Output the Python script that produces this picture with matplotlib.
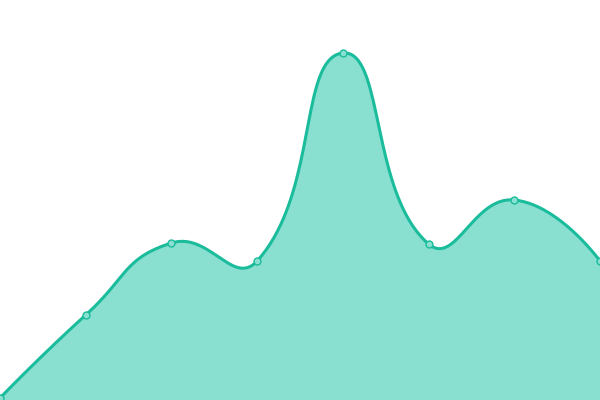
import numpy as np
import matplotlib
matplotlib.use("Agg")
import matplotlib.pyplot as plt

values = [2, 85, 157, 139, 347, 156, 200, 139]
line_color = "#1abc9c"
fill_color = "#89e0d0"


def smooth_path(xs, ys, smooth=0.5, n=40):
    # bezier smoothing, same idea as echarts' smooth line
    pts = list(zip(xs, ys))
    cps = []
    for i, (x, y) in enumerate(pts):
        if i == 0 or i == len(pts) - 1:
            cps.append(((x, y), (x, y)))
            continue
        px, py = pts[i - 1]
        nx, ny = pts[i + 1]
        vx, vy = nx - px, ny - py
        l0 = np.hypot(x - px, y - py)
        l1 = np.hypot(nx - x, ny - y)
        r = l1 / (l0 + l1)
        cin = (x - vx * smooth * (1 - r), y - vy * smooth * (1 - r))
        cout = (x + vx * smooth * r, y + vy * smooth * r)
        cps.append((cin, cout))
    out_x, out_y = [xs[0]], [ys[0]]
    t = np.linspace(0, 1, n)[1:]
    for i in range(len(pts) - 1):
        p0 = np.array(pts[i])
        p1 = np.array(cps[i][1])
        p2 = np.array(cps[i + 1][0])
        p3 = np.array(pts[i + 1])
        for tt in t:
            b = ((1 - tt) ** 3) * p0 + 3 * ((1 - tt) ** 2) * tt * p1 + 3 * (1 - tt) * tt ** 2 * p2 + tt ** 3 * p3
            out_x.append(b[0])
            out_y.append(b[1])
    return np.array(out_x), np.array(out_y)


xs = np.arange(len(values)) * 600 / (len(values) - 1)
cx, cy = smooth_path(list(xs), values)

fig = plt.figure(figsize=(6, 4), dpi=100)
ax = fig.add_axes([0, 0, 1, 1])
ax.fill_between(cx, 0, cy, color=fill_color, lw=0)
ax.plot(cx, cy, color=line_color, lw=2.2)
ax.plot(xs, values, "o", ms=5, mfc=fill_color, mec=line_color, mew=1)
ax.set_xlim(0, 600)
ax.set_ylim(0, 400)
ax.axis("off")

fig.savefig("out.png", dpi=100)
